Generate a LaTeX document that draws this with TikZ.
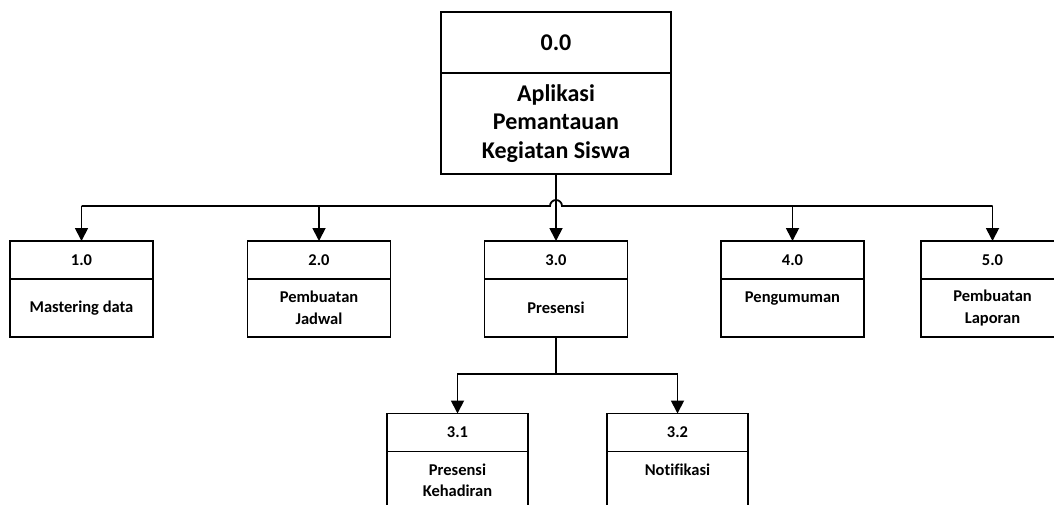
\documentclass[tikz,border=0pt]{standalone}
\usepackage{fontspec}
\setmainfont{Carlito}[Ligatures=CommonOff]
\usetikzlibrary{positioning,arrows.meta}

\begin{document}
\begin{tikzpicture}[x=1pt, y=-1pt,
  line/.style = {line width=1.8pt},
  link/.style = {line, -{Triangle[length=13pt, width=13pt]}},
  num/.style = {draw, line width=1.8pt, outer sep=0pt, inner sep=0pt,
                minimum width=143pt, minimum height=38pt,
                font=\bfseries\fontsize{16.5}{21.5}\selectfont},
  desc/.style = {num, minimum height=58pt, align=center},
  topnum/.style = {num, minimum width=230pt, minimum height=61pt,
                   font=\bfseries\fontsize{24}{28.5}\selectfont},
  topdesc/.style = {topnum, minimum height=101pt, align=center},
  ]
  \clip (0,0) rectangle (1054,504);
  \node[topnum] (p0) at (556,42.5) {0.0};
  \node[topdesc, below=0pt of p0] (p0d) {Aplikasi\\Pemantauan\\Kegiatan Siswa};

  \node[num] (p1) at (81.5,260) {1.0};
  \node[desc, below=0pt of p1] (p1d) {Mastering data};
  \node[num] (p2) at (319,260) {2.0};
  \node[desc, below=0pt of p2] (p2d) {Pembuatan\\Jadwal};
  \node[num] (p3) at (556,260) {3.0};
  \node[desc, below=0pt of p3] (p3d) {Presensi};
  \node[num] (p4) at (792.5,260) {4.0};
  \node[desc, below=0pt of p4] (p4d) {Pengumuman\\\mbox{}};
  \node[num] (p5) at (992.5,260) {5.0};
  \node[desc, below=0pt of p5] (p5d) {Pembuatan\\Laporan};

  \node[num, minimum width=141pt] (p31) at (457.5,432.5) {3.1};
  \node[desc, minimum width=141pt, below=0pt of p31] (p31d) {Presensi\\Kehadiran};
  \node[num, minimum width=141pt] (p32) at (677.5,432.5) {3.2};
  \node[desc, minimum width=141pt, below=0pt of p32] (p32d) {Notifikasi\\\mbox{}};

  \coordinate (bus) at (0,206);
  \coordinate (sub) at (0,374);

  \draw[link] (p0d.south) -- (p3.north);
  \draw[line] (p1.north |- bus) -- ([xshift=-6pt]p0d.south |- bus)
    arc (180:0:6pt) -- (p5.north |- bus);
  \draw[link] (p1.north |- bus) -- (p1.north);
  \draw[link] (p2.north |- bus) -- (p2.north);
  \draw[link] (p4.north |- bus) -- (p4.north);
  \draw[link] (p5.north |- bus) -- (p5.north);

  \draw[line] (p3d.south) -- (p3d.south |- sub);
  \draw[link] (p3d.south |- sub) -| (p31.north);
  \draw[link] (p3d.south |- sub) -| (p32.north);
\end{tikzpicture}
\end{document}
